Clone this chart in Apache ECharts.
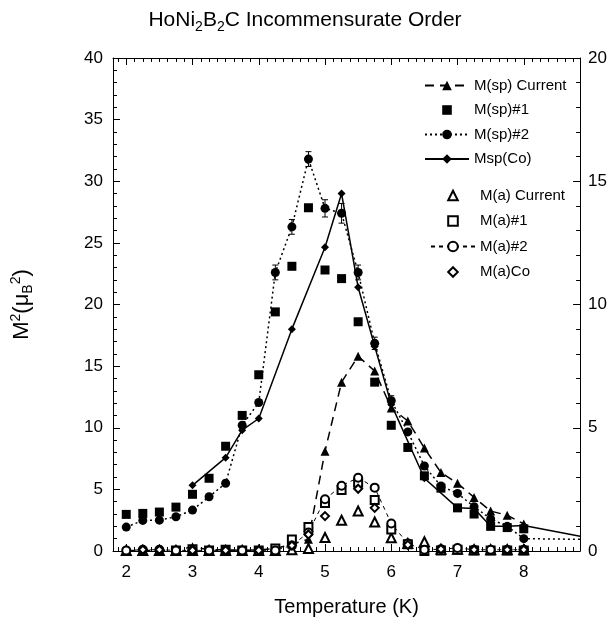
<!DOCTYPE html>
<html><head><meta charset="utf-8">
<script src="https://cdn.jsdelivr.net/npm/echarts@6/dist/echarts.min.js"></script>
<style>html,body{margin:0;padding:0;background:#fff}#c{width:610px;height:625px}</style>
</head><body><div id="c"></div>
<script>
const FONT = '"Liberation Sans", Arial, Helvetica, sans-serif';

const xTickLabels = [2, 3, 4, 5, 6, 7, 8];

// M(sp) Current (filled triangles, dashed)
const spCurT = [2, 2.75, 3, 3.25, 3.5, 3.75, 4, 4.25, 4.5, 4.75, 5, 5.25, 5.5, 5.75, 6, 6.25, 6.5, 6.75, 7, 7.25, 7.5, 7.75, 8];
const spCurM = [0.05, 0.05, 0.35, 0.1, 0.1, 0.05, 0.1, 0.2, 0.55, 0.95, 8.1, 13.7, 15.8, 14.6, 11.6, 10.55, 8.35, 6.36, 5.5, 4.35, 3.24, 2.9, 2.2];

// M(sp)#1 (filled squares)
const sp1T = [2, 2.25, 2.5, 2.75, 3, 3.25, 3.5, 3.75, 4, 4.25, 4.5, 4.75, 5, 5.25, 5.5, 5.75, 6, 6.25, 6.5, 6.75, 7, 7.25, 7.5, 7.75, 8];
const sp1M = [2.97, 3.05, 3.16, 3.56, 4.6, 5.9, 8.5, 11.0, 14.3, 19.4, 23.1, 27.85, 22.8, 22.1, 18.6, 13.7, 10.2, 8.4, 6.1, 5.1, 3.5, 3.0, 2.0, 1.9, 1.8];

// M(sp)#2 (filled circles, dotted); last point is line end only
const sp2T = [2, 2.25, 2.5, 2.75, 3, 3.25, 3.5, 3.75, 4, 4.25, 4.5, 4.75, 5, 5.25, 5.5, 5.75, 6, 6.25, 6.5, 6.75, 7, 7.25, 7.5, 7.75, 8, 8.85];
const sp2M = [1.94, 2.48, 2.5, 2.78, 3.32, 4.4, 5.5, 10.2, 12.05, 22.6, 26.3, 31.8, 27.8, 27.4, 22.6, 16.85, 12.2, 9.66, 6.9, 5.27, 4.67, 3.6, 2.6, 2.0, 1.0, 0.95];
const sp2ErrT = [4.25, 4.5, 4.75, 5, 5.25, 5.5, 5.75, 6];
const sp2ErrM = [22.6, 26.3, 31.8, 27.8, 27.4, 22.6, 16.85, 12.2];
const sp2ErrD = [0.6, 0.6, 0.6, 0.7, 0.8, 0.6, 0.5, 0.4];

// Msp(Co) (filled diamonds, solid); last point is line end only
const spCoT = [3, 3.5, 3.75, 4, 4.5, 5, 5.25, 5.5, 5.75, 6, 6.5, 7, 7.25, 7.5, 7.75, 8, 8.85];
const spCoM = [5.33, 7.57, 9.8, 10.75, 18.0, 24.65, 29.0, 21.4, 16.6, 11.9, 5.9, 3.5, 3.45, 2.0, 2.0, 2.07, 1.2];

// M(a) Current (open triangles)
const aCurT = [2, 2.25, 2.5, 2.75, 3, 3.25, 3.5, 3.75, 4, 4.25, 4.5, 4.75, 5, 5.25, 5.5, 5.75, 6, 6.25, 6.5, 6.75, 7, 7.25, 7.5, 7.75, 8];
const aCurM = [0.05, 0.05, 0.05, 0.05, 0.05, 0.05, 0.05, 0.05, 0.05, 0.05, 0.1, 0.2, 1.1, 2.5, 3.24, 2.35, 1.07, 0.6, 0.75, 0.15, 0.15, 0.1, 0.1, 0.1, 0.1];

// M(a)#1 (open squares)
const a1T = [2.75, 3, 3.25, 3.5, 3.75, 4, 4.25, 4.5, 4.75, 5, 5.25, 5.5, 5.75, 6, 6.25, 6.5, 6.75, 7, 7.25, 7.5, 7.75, 8];
const a1M = [0.05, 0.15, 0.05, 0.1, 0.05, 0.05, 0.2, 0.93, 1.94, 3.9, 4.94, 5.54, 4.13, 1.75, 0.55, 0.0, 0.05, 0.1, 0.05, 0.05, 0.05, 0.05];

// M(a)#2 (open circles, dashed)
const a2T = [2, 2.25, 2.5, 2.75, 3, 3.25, 3.5, 3.75, 4, 4.25, 4.5, 4.75, 5, 5.25, 5.5, 5.75, 6, 6.25, 6.5, 6.75, 7, 7.25, 7.5, 7.75, 8];
const a2M = [0.05, 0.1, 0.1, 0.05, 0.05, 0.05, 0.05, 0.05, 0.0, 0.05, 0.45, 1.5, 4.2, 5.3, 5.95, 5.14, 2.23, 0.6, 0.1, 0.15, 0.25, 0.1, 0.1, 0.1, 0.1];

// M(a)Co (open diamonds)
const aCoT = [2.25, 2.5, 3, 3.5, 4, 4.5, 4.75, 5, 5.5, 5.75, 6.25, 6.75, 7.25, 7.75, 8];
const aCoM = [0.1, 0.1, 0.05, 0.05, 0.05, 0.45, 1.34, 2.83, 5.05, 3.5, 0.5, 0.15, 0.1, 0.1, 0.1];

const pairs = (t, m) => t.map((v, i) => [v, m[i]]);
const endNoSymbol = (arr) => arr.map((p, i) => i === arr.length - 1 ? {value: p, symbol: 'none'} : p);

const XMIN = 1.8, XMAX = 8.85;
const minorX = [];
for (let v = 1.875; v < XMAX; v += 0.125) minorX.push(+v.toFixed(3));

const chart = echarts.init(document.getElementById('c'), null, {renderer: 'canvas'});

const baseX = (pos, vals, len, showLabel, showLine) => ({
  type: 'value', min: XMIN, max: XMAX, position: pos,
  axisLine: {show: showLine, onZero: false, lineStyle: {color: '#000', width: 1}},
  axisTick: {show: true, inside: true, length: len, customValues: vals, lineStyle: {color: '#000', width: 1}},
  axisLabel: showLabel ? {show: true, customValues: xTickLabels, color: '#000', fontSize: 17, fontFamily: FONT, margin: 13} : {show: false},
  splitLine: {show: false}
});

const sup = {fontSize: 14, fontFamily: FONT, color: '#000', padding: [0, 0, 11, 0]};
const sub = {fontSize: 14, fontFamily: FONT, color: '#000', padding: [12, 0, 0, 0]};
const hidden = {opacity: 0, width: 0};
const pointsOnly = (name, t, m, symbol, size, empty) => ({
  name, type: 'line', data: pairs(t, m), symbol, symbolSize: size, color: '#000',
  lineStyle: hidden, showAllSymbol: true,
  itemStyle: empty ? {color: '#000', borderColor: '#000', borderWidth: 1} : {color: '#000'},
  z: empty ? 4 : 3
});

chart.setOption({
  animation: false,
  backgroundColor: '#fff',
  title: {
    text: 'HoNi{s|2}B{s|2}C Incommensurate Order',
    left: 'center', top: 2,
    textStyle: {
      fontSize: 21, fontWeight: 'normal', fontFamily: FONT, color: '#000',
      rich: {s: {fontSize: 14, fontFamily: FONT, color: '#000', padding: [13, 0, 0, 0]}}
    }
  },
  grid: {left: 113, right: 27, top: 58, bottom: 74, containLabel: false},
  legend: [
    {
      orient: 'vertical', left: 419, top: 73, itemWidth: 44, itemHeight: 12, itemGap: 9.5,
      textStyle: {fontSize: 15, fontFamily: FONT, color: '#000'},
      selectedMode: false,
      data: ['M(sp) Current', 'M(sp)#1', 'M(sp)#2', 'Msp(Co)']
    },
    {
      orient: 'vertical', left: 425, top: 183, itemWidth: 44, itemHeight: 12, itemGap: 10.5,
      textStyle: {fontSize: 15, fontFamily: FONT, color: '#000'},
      selectedMode: false,
      data: ['M(a) Current', 'M(a)#1', 'M(a)#2', 'M(a)Co']
    }
  ],
  xAxis: [
    Object.assign(baseX('bottom', xTickLabels, 7, true, true), {
      name: 'Temperature (K)', nameLocation: 'middle', nameGap: 46,
      nameTextStyle: {fontSize: 20, fontFamily: FONT, color: '#000'}
    }),
    baseX('bottom', minorX, 4, false, false),
    baseX('top', xTickLabels, 7, false, true),
    baseX('top', minorX, 4, false, false)
  ],
  yAxis: [
    {
      type: 'value', min: 0, max: 40, interval: 5, position: 'left',
      name: '{a|M}{p|2}{a|(μ}{b|B}{p|2}{a|)}', nameLocation: 'middle', nameRotate: 90, nameGap: 78,
      nameTextStyle: {fontSize: 22, fontFamily: FONT, color: '#000',
        rich: {a: {fontSize: 22, fontFamily: FONT, color: '#000'}, p: sup, b: sub}},
      axisLine: {show: true, lineStyle: {color: '#000'}},
      axisTick: {show: true, inside: true, length: 7, lineStyle: {color: '#000'}},
      minorTick: {show: true, splitNumber: 5, length: 4, lineStyle: {color: '#000'}},
      axisLabel: {color: '#000', fontSize: 17, fontFamily: FONT, margin: 10},
      splitLine: {show: false}
    },
    {
      type: 'value', min: 0, max: 20, interval: 5, position: 'right',
      axisLine: {show: true, lineStyle: {color: '#000'}},
      axisTick: {show: true, inside: true, length: 7, lineStyle: {color: '#000'}},
      minorTick: {show: true, splitNumber: 5, length: 4, lineStyle: {color: '#000'}},
      axisLabel: {color: '#000', fontSize: 17, fontFamily: FONT, margin: 8},
      splitLine: {show: false}
    }
  ],
  series: [
    {
      name: 'M(sp) Current', type: 'line', data: pairs(spCurT, spCurM),
      symbol: 'triangle', symbolSize: 9, color: '#000', showAllSymbol: true,
      lineStyle: {color: '#000', width: 1.5, type: [9, 6]},
      itemStyle: {color: '#000'}, z: 3
    },
    pointsOnly('M(sp)#1', sp1T, sp1M, 'rect', 9, false),
    {
      name: 'M(sp)#2', type: 'line', data: endNoSymbol(pairs(sp2T, sp2M)),
      symbol: 'circle', symbolSize: 9, color: '#000', showAllSymbol: true,
      lineStyle: {color: '#000', width: 1.5, type: [2, 3]},
      itemStyle: {color: '#000'}, z: 3
    },
    {
      name: 'Msp(Co)', type: 'line', data: endNoSymbol(pairs(spCoT, spCoM)),
      symbol: 'diamond', symbolSize: 8, color: '#000', showAllSymbol: true,
      lineStyle: {color: '#000', width: 1.5},
      itemStyle: {color: '#000'}, z: 3
    },
    {
      name: 'M(sp)#2 err', type: 'custom',
      data: sp2ErrT.map((t, i) => [t, sp2ErrM[i] - sp2ErrD[i], sp2ErrM[i] + sp2ErrD[i]]),
      renderItem: function (params, api) {
        const lo = api.coord([api.value(0), api.value(1)]);
        const hi = api.coord([api.value(0), api.value(2)]);
        const s = {stroke: '#000', lineWidth: 1};
        return {type: 'group', children: [
          {type: 'line', shape: {x1: lo[0], y1: lo[1], x2: hi[0], y2: hi[1]}, style: s},
          {type: 'line', shape: {x1: hi[0] - 3, y1: hi[1], x2: hi[0] + 3, y2: hi[1]}, style: s},
          {type: 'line', shape: {x1: lo[0] - 3, y1: lo[1], x2: lo[0] + 3, y2: lo[1]}, style: s}
        ]};
      }, z: 2
    },
    pointsOnly('M(a) Current', aCurT, aCurM, 'emptyTriangle', 9, true),
    pointsOnly('M(a)#1', a1T, a1M, 'emptyRect', 8, true),
    {
      name: 'M(a)#2', type: 'line', data: pairs(a2T, a2M),
      symbol: 'emptyCircle', symbolSize: 8, color: '#000', showAllSymbol: true,
      lineStyle: {color: '#000', width: 1, type: [4, 4]},
      itemStyle: {color: '#000', borderColor: '#000', borderWidth: 1}, z: 4
    },
    pointsOnly('M(a)Co', aCoT, aCoM, 'emptyDiamond', 8, true)
  ]
});
</script>
</body></html>
